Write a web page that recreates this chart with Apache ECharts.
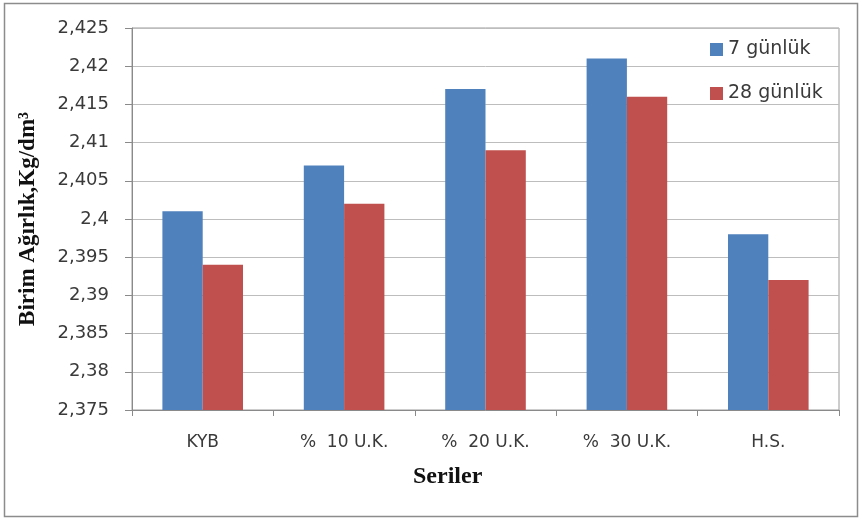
<!DOCTYPE html>
<html>
<head>
<meta charset="utf-8">
<script src="https://cdn.jsdelivr.net/npm/echarts@6/dist/echarts.min.js"></script>
<style>
  html, body { margin: 0; padding: 0; background: #ffffff; }
  #chart { width: 862px; height: 520px; }
</style>
</head>
<body>
<div id="chart"></div>
<script>
// Birim ağırlık değerleri (Kg/dm³), seri başına
const categories = ['KYB', '%  10 U.K.', '%  20 U.K.', '%  30 U.K.', 'H.S.'];
const seriesNames = ['7 günlük', '28 günlük'];
const values7 = [2.401, 2.407, 2.417, 2.421, 2.398];
const values28 = [2.394, 2.402, 2.409, 2.416, 2.392];
const yMin = 2.375;
const yMax = 2.425;
const yStep = 0.005;

const labelFont = '"DejaVu Sans", sans-serif';
const titleFont = '"Liberation Serif", "Times New Roman", serif';
const textColor = '#3a3a3a';

const chart = echarts.init(document.getElementById('chart'), null, { renderer: 'canvas' });

chart.setOption({
  animation: false,
  backgroundColor: '#ffffff',
  color: ['#4F81BD', '#C0504D'],
  grid: {
    left: 132, right: 23, top: 28, bottom: 110, containLabel: false,
    show: true, borderColor: '#9a9a9a', borderWidth: 1, backgroundColor: 'transparent'
  },
  legend: {
    data: seriesNames,
    orient: 'vertical',
    left: 710,
    top: 40,
    padding: 0,
    icon: 'rect',
    itemWidth: 13,
    itemHeight: 13,
    itemGap: 25,
    textStyle: { fontFamily: labelFont, fontSize: 19, color: textColor }
  },
  xAxis: {
    type: 'category',
    data: categories,
    axisLine: { lineStyle: { color: '#8a8a8a', width: 1 } },
    axisTick: { show: true, length: 6, lineStyle: { color: '#8a8a8a' } },
    axisLabel: { fontFamily: labelFont, fontSize: 17, color: textColor, margin: 24 },
    splitLine: { show: false }
  },
  yAxis: {
    type: 'value',
    min: yMin,
    max: yMax,
    interval: yStep,
    name: 'Birim Ağırlık,Kg/dm³',
    nameLocation: 'middle',
    nameGap: 92,
    nameRotate: 90,
    nameTextStyle: { fontFamily: titleFont, fontWeight: 'bold', fontSize: 23, color: '#111111' },
    axisLine: { show: true, lineStyle: { color: '#8a8a8a', width: 1 } },
    axisTick: { show: true, length: 7, lineStyle: { color: '#8a8a8a' } },
    axisLabel: {
      fontFamily: labelFont,
      fontSize: 18,
      color: textColor,
      margin: 23,
      formatter: function (v) {
        return String(Math.round(v * 1000) / 1000).replace('.', ',');
      }
    },
    splitLine: { show: true, lineStyle: { color: '#bdbdbd', width: 1 } }
  },
  series: [
    {
      name: seriesNames[0],
      type: 'bar',
      data: values7,
      barGap: '0%',
      barCategoryGap: '43%'
    },
    {
      name: seriesNames[1],
      type: 'bar',
      data: values28,
      barGap: '0%',
      barCategoryGap: '43%'
    }
  ],
  graphic: [
    {
      type: 'rect',
      shape: { x: 4.5, y: 3.5, width: 853, height: 513 },
      style: { fill: 'none', stroke: '#8c8c8c', lineWidth: 1.5 },
      silent: true,
      z: 100
    },
    {
      type: 'text',
      left: 413,
      top: 465,
      style: {
        text: 'Seriler',
        font: 'bold 24px ' + titleFont,
        fill: '#111111'
      }
    }
  ]
});
</script>
</body>
</html>
